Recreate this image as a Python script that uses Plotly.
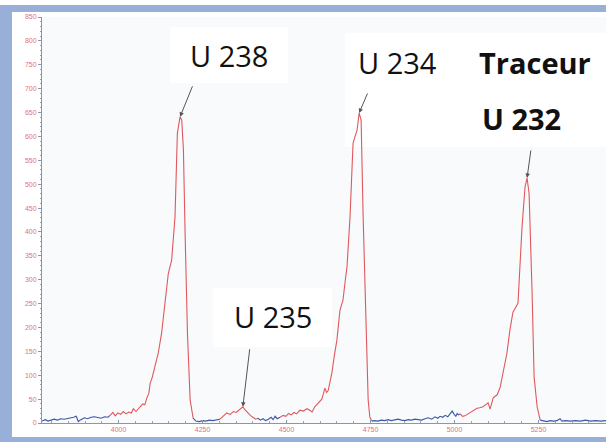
import plotly.graph_objects as go

# ---- data ----
mass_x = [3772, 3782, 3790, 3798, 3808, 3818, 3828, 3838, 3848, 3858, 3866, 3874, 3880, 3888, 3898, 3908,
          3918, 3928, 3938, 3948, 3958, 3968, 3975,
          3983, 3990, 3998, 4006, 4014, 4022, 4030, 4038, 4044, 4052, 4058, 4064, 4072, 4078, 4084, 4090,
          4094, 4100, 4108, 4118, 4128, 4138, 4148, 4158, 4168, 4175, 4183, 4188, 4193, 4198, 4205, 4213, 4222,
          4230, 4240, 4250, 4260, 4270, 4280, 4290, 4302,
          4312, 4322, 4332, 4342, 4350, 4358, 4364, 4370, 4376, 4384, 4392, 4400, 4408, 4415,
          4422, 4430, 4438, 4446, 4454, 4460, 4466, 4472, 4481,
          4490, 4498, 4506, 4514, 4522, 4530, 4540, 4550, 4561, 4570, 4576, 4584, 4591, 4598, 4605, 4610,
          4614, 4619, 4624, 4630, 4635, 4642, 4650, 4659, 4668, 4675, 4680, 4689, 4698, 4704, 4710, 4716,
          4722, 4728, 4737, 4743, 4748, 4754,
          4762, 4772, 4782, 4792, 4802, 4812, 4822, 4832, 4842, 4852, 4862, 4872, 4882, 4892, 4902, 4912,
          4922, 4932, 4942, 4950, 4957, 4965, 4972, 4980, 4987, 4993, 4999, 5004, 5008, 5012, 5017,
          5024, 5031, 5038, 5046, 5054, 5060, 5067, 5075, 5085, 5092, 5100, 5106, 5110, 5115, 5121, 5127,
          5136, 5145, 5156, 5165, 5174, 5182, 5189, 5201, 5210, 5216, 5222, 5231, 5237, 5246, 5255,
          5265, 5275, 5285, 5295, 5305, 5314, 5320, 5330, 5345, 5360, 5375, 5390, 5405, 5420, 5435, 5451]
counts = [4, 7, 4, 6, 8, 6, 9, 8, 9, 10, 12, 14, 3, 7, 11, 9,
          12, 13, 11, 10, 13, 12, 16,
          22, 15, 21, 18, 24, 19, 23, 21, 30, 24, 28, 34, 40, 38, 52, 62,
          83, 95, 118, 146, 188, 258, 313, 341, 432, 607, 641, 634, 572, 397, 188, 48, 10,
          4, 3, 5, 4, 6, 5, 7, 8,
          14, 21, 18, 24, 22, 27, 31, 34, 28, 21, 16, 12, 8, 10,
          6, 9, 5, 8, 12, 7, 14, 9, 12,
          16, 14, 20, 17, 22, 19, 27, 25, 30, 26, 23, 34, 40, 45, 50, 62,
          73, 64, 68, 88, 105, 140, 174, 236, 257, 300, 327, 432, 586, 600, 613, 649,
          634, 432, 188, 48, 12, 4,
          5, 4, 6, 5, 7, 5, 6, 8, 6, 5, 7, 6, 8, 7, 6, 9,
          11, 8, 13, 10, 14, 12, 16, 13, 19, 25, 18, 14, 20, 17, 19,
          14, 15, 18, 21, 24, 27, 31, 32, 34, 38, 42, 29, 40, 52, 56, 59,
          75, 105, 146, 195, 232, 242, 251, 410, 494, 513, 481, 272, 96, 34, 6,
          4, 3, 5, 4, 5, 9, 4, 5, 4, 5, 4, 6, 4, 5, 4, 5]

# mass ranges drawn in red (peak regions); the rest is drawn in blue
red_ranges = [(3975, 4222), (4302, 4415), (4481, 4754), (5017, 5255)]

peak_labels = ["U 238", "U 235", "U 234", "U 232"]
peak_x = [4183, 4370, 4716, 5216]
peak_y = [641, 34, 649, 513]

x_tick_vals = [4000, 4250, 4500, 4750, 5000, 5250]
y_tick_vals = list(range(0, 851, 50))

RED = "#e0585c"
BLUE = "#3c58a6"
LBL = "#e4707a"


def is_red(a, b):
    m = (a + b) / 2
    return any(lo <= m <= hi for lo, hi in red_ranges)


fig = go.Figure()

# split the series into colour runs sharing boundary points
runs = []
cur_x, cur_y = [mass_x[0]], [counts[0]]
cur_c = is_red(mass_x[0], mass_x[1])
for i in range(1, len(mass_x)):
    c = is_red(mass_x[i - 1], mass_x[i])
    if c != cur_c:
        runs.append((cur_c, cur_x, cur_y))
        cur_x, cur_y = [mass_x[i - 1]], [counts[i - 1]]
        cur_c = c
    cur_x.append(mass_x[i])
    cur_y.append(counts[i])
runs.append((cur_c, cur_x, cur_y))

for red, xs, ys in runs:
    fig.add_trace(go.Scatter(x=xs, y=ys, mode="lines",
                             line=dict(color=RED if red else BLUE, width=1.1),
                             showlegend=False, hoverinfo="x+y"))

# arrows
arrow_off = {"U 238": (13, -32), "U 235": (7, -59), "U 234": (9, -21), "U 232": (4, -29)}
for lab, px, py in zip(peak_labels, peak_x, peak_y):
    ax, ay = arrow_off[lab]
    fig.add_annotation(x=px, y=py, xref="x", yref="y", text="", showarrow=True,
                       ax=ax, ay=ay, arrowhead=2, arrowsize=0.9, arrowwidth=1,
                       arrowcolor="#555555")

font_reg = dict(family="Open Sans, DejaVu Sans, sans-serif", size=29, color="#111111")
font_bold = dict(family="Open Sans, DejaVu Sans, sans-serif", size=29, color="#111111", weight="bold")
text_items = [
    ("U 238", 0.3316, 0.904, font_reg),
    ("U 234", 0.631, 0.889, font_reg),
    ("<b>Traceur</b>", 0.874, 0.887, font_bold),
    ("<b>U 232</b>", 0.851, 0.749, font_bold),
    ("U 235", 0.4096, 0.2635, font_reg),
]
for t, x, y, f in text_items:
    fig.add_annotation(x=x, y=y, xref="paper", yref="paper", text=t, showarrow=False,
                       font=f, xanchor="center", yanchor="middle")

shapes = []
# white label boxes
for x0, x1, y0, y1 in [(0.227, 0.436, 0.837, 0.975), (0.537, 1.0, 0.680, 0.961), (0.303, 0.514, 0.187, 0.3325)]:
    shapes.append(dict(type="rect", xref="paper", yref="paper", x0=x0, x1=x1, y0=y0, y1=y1,
                       fillcolor="white", line=dict(width=0), layer="below"))
# blue frame
FRAME = "#98b0d8"
for x0, x1, y0, y1 in [(-0.0745, -0.0532, -0.0468, 1.0296),
                       (-0.0745, 1.0, 1.0123, 1.0296),
                       (-0.0745, 1.0, -0.0468, -0.0345)]:
    shapes.append(dict(type="rect", xref="paper", yref="paper", x0=x0, x1=x1, y0=y0, y1=y1,
                       fillcolor=FRAME, line=dict(width=0), layer="above"))

fig.update_layout(
    width=606, height=442,
    margin=dict(l=42, r=0, t=17, b=19),
    paper_bgcolor="white",
    plot_bgcolor="#f8fafc",
    shapes=shapes,
    showlegend=False,
    xaxis=dict(range=[3772, 5451], tickvals=x_tick_vals, ticks="inside", ticklen=3,
               tickcolor="#8a96aa", showgrid=False, zeroline=False, showline=True,
               linecolor="#8a96aa", linewidth=1,
               tickfont=dict(family="Liberation Sans, Arial", size=7, color=LBL),
               minor=dict(dtick=50, tick0=4000, ticks="inside", ticklen=2, tickcolor="#9aa4b6")),
    yaxis=dict(range=[0, 850], tickvals=y_tick_vals, ticks="outside", ticklen=3,
               tickcolor="#8a96aa", showgrid=False, zeroline=False, showline=True,
               linecolor="#8a96aa", linewidth=1,
               tickfont=dict(family="Liberation Sans, Arial", size=7, color=LBL),
               minor=dict(dtick=10, ticks="outside", ticklen=1.5, tickcolor="#9aa4b6")),
)

fig.write_html("out.html", config={"displayModeBar": False},
               post_script="document.body.style.margin='0';")
